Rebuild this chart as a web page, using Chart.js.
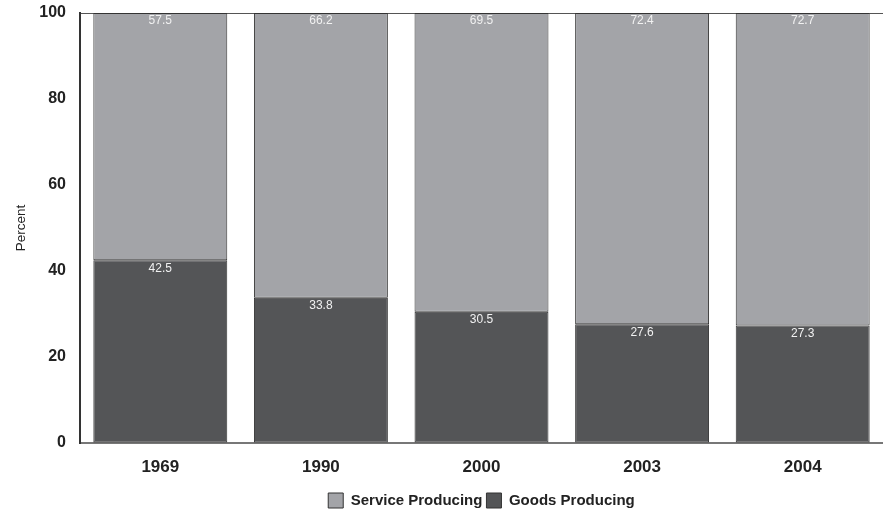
<!DOCTYPE html>
<html>
<head>
<meta charset="utf-8">
<script src="https://cdn.jsdelivr.net/npm/chart.js@4.4.0/dist/chart.umd.min.js"></script>
<style>
  html, body { margin: 0; padding: 0; background: #fff; }
  #wrap { width: 883px; height: 510px; }
</style>
</head>
<body>
<div id="wrap"><canvas id="chart" width="883" height="510"></canvas></div>
<script>
const years = ["1969", "1990", "2000", "2003", "2004"];
const goods = [42.5, 33.8, 30.5, 27.6, 27.3];
const services = [57.5, 66.2, 69.5, 72.4, 72.7];
const yTicks = [0, 20, 40, 60, 80, 100];

const FONT = "'Liberation Sans', Arial, Helvetica, sans-serif";

// value labels just inside the top of each segment
const valueLabels = {
  id: "valueLabels",
  afterDatasetsDraw(chart) {
    const ctx = chart.ctx;
    ctx.save();
    ctx.font = "12px " + FONT;
    ctx.fillStyle = "#f2f2f2";
    ctx.textAlign = "center";
    ctx.textBaseline = "middle";
    chart.data.datasets.forEach((ds, i) => {
      chart.getDatasetMeta(i).data.forEach((bar, j) => {
        ctx.fillText(ds.data[j].toFixed(1), bar.x, bar.y + 8);
      });
    });
    ctx.restore();
  }
};

new Chart(document.getElementById("chart").getContext("2d"), {
  type: "bar",
  data: {
    labels: years,
    datasets: [
      {
        label: "Goods Producing",
        data: goods,
        backgroundColor: "#545557",
        borderColor: "#333333",
        borderWidth: 1,
        borderSkipped: false
      },
      {
        label: "Service Producing",
        data: services,
        backgroundColor: "#a3a4a8",
        borderColor: "#333333",
        borderWidth: 1,
        borderSkipped: false
      }
    ]
  },
  options: {
    responsive: false,
    animation: false,
    layout: { padding: { top: 13, right: 0, left: 0, bottom: -8 } },
    datasets: { bar: { barPercentage: 0.834, categoryPercentage: 1 } },
    plugins: {
      legend: {
        position: "bottom",
        fullSize: false,
        reverse: true,
        labels: {
          boxWidth: 15,
          boxHeight: 15,
          padding: 4,
          color: "#222",
          font: { family: FONT, size: 15, weight: "bold" }
        }
      },
      tooltip: { enabled: false }
    },
    scales: {
      x: {
        stacked: true,
        grid: { display: false, drawTicks: false },
        border: { display: true, color: "#777", width: 2 },
        ticks: {
          color: "#222",
          padding: 14,
          font: { family: FONT, size: 17, weight: "bold" }
        },
        afterFit(scale) { scale.height = 46; }
      },
      y: {
        stacked: true,
        min: 0,
        max: 100,
        afterBuildTicks(scale) { scale.ticks = yTicks.map(v => ({ value: v })); },
        grid: {
          drawTicks: false,
          color: c => (c.tick && c.tick.value === 100 ? "#555" : "rgba(0,0,0,0)"),
          lineWidth: 1
        },
        border: { display: true, color: "#333", width: 2 },
        ticks: {
          color: "#222",
          padding: 14,
          font: { family: FONT, size: 16, weight: "bold" }
        },
        title: {
          display: true,
          text: "Percent",
          color: "#222",
          padding: { top: 13, bottom: 0 },
          font: { family: FONT, size: 13.5 }
        },
        afterFit(scale) {
          scale.width = 80;
          scale.paddingTop = 0;
          scale.paddingBottom = 0;
        }
      }
    }
  },
  plugins: [valueLabels]
});
</script>
</body>
</html>
